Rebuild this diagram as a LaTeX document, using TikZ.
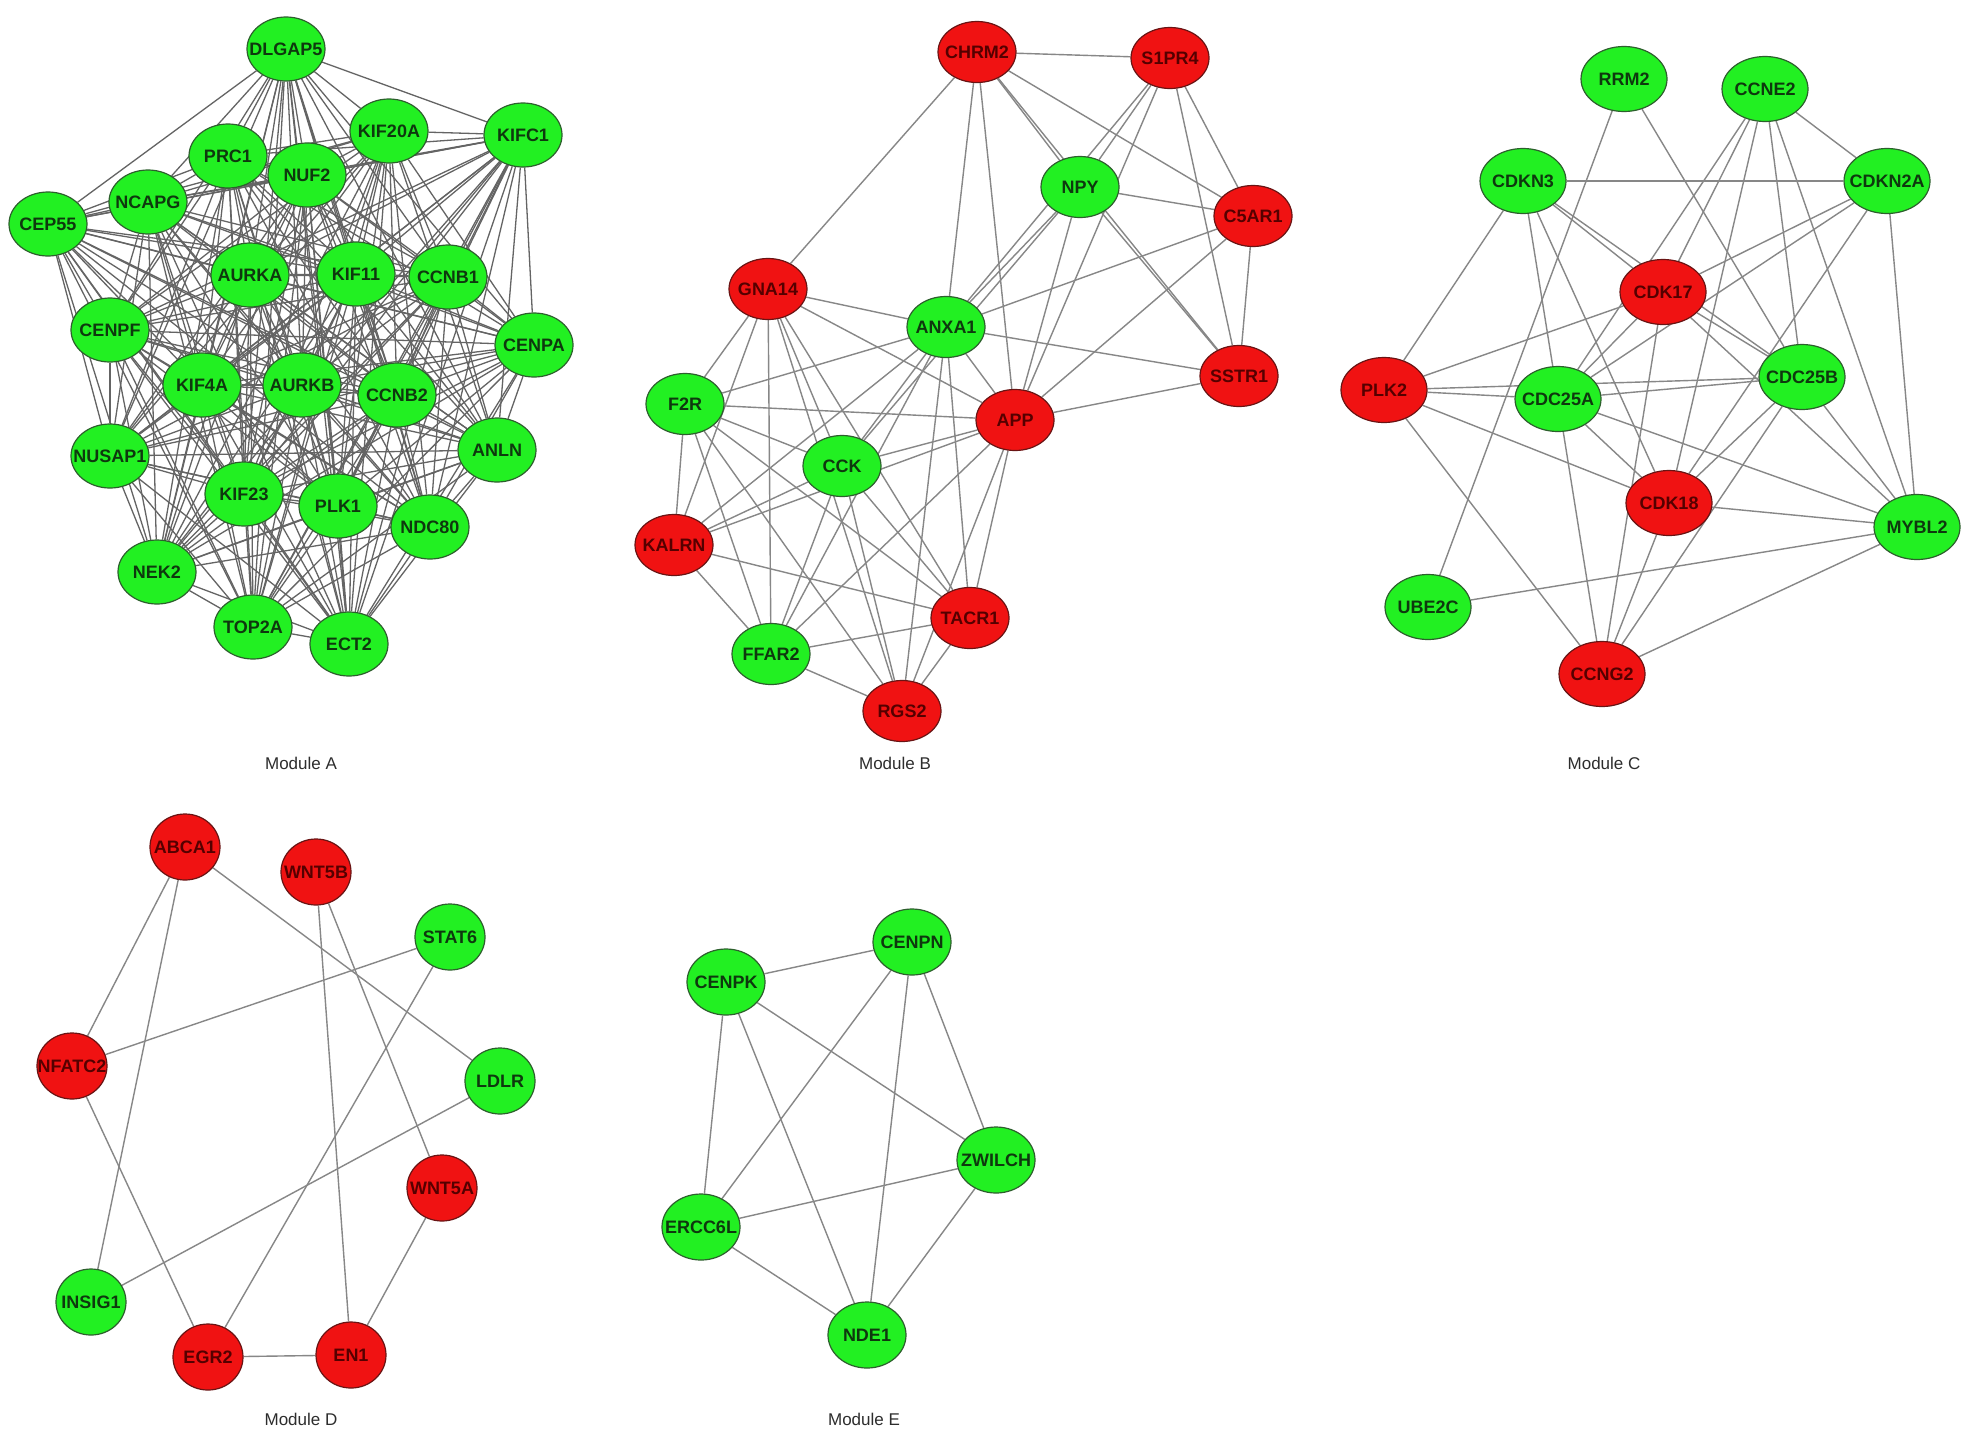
\documentclass[tikz,border=0pt]{standalone}
\usepackage{fontspec}
\setmainfont{Liberation Sans}
\usetikzlibrary{shapes.geometric}
\pgfdeclarelayer{paper}
\pgfdeclarelayer{bg}
\pgfsetlayers{paper,bg,main}
\definecolor{ngreen}{RGB}{34,240,34}
\definecolor{nred}{RGB}{240,18,18}
\definecolor{gtext}{RGB}{14,56,14}
\definecolor{rtext}{RGB}{85,0,0}
\definecolor{gborder}{RGB}{45,95,45}
\definecolor{rborder}{RGB}{105,20,20}
\definecolor{edgeclr}{RGB}{135,135,135}
\definecolor{edgeAclr}{RGB}{100,100,100}
\definecolor{labclr}{RGB}{45,45,45}
\newcommand\gl[1]{\makebox[0pt][c]{#1}}
\tikzset{
  gene/.style={ellipse, inner sep=0pt, line width=1.2pt, font=\bfseries\fontsize{18}{20}\selectfont},
  gnode/.style={gene, draw=gborder, fill=ngreen, text=gtext},
  rnode/.style={gene, draw=rborder, fill=nred, text=rtext},
  szA/.style={minimum width=78pt, minimum height=64pt},
  szB/.style={minimum width=78pt, minimum height=61pt},
  szC/.style={minimum width=86pt, minimum height=65pt},
  szD/.style={minimum width=70pt, minimum height=66pt},
  szE/.style={minimum width=78pt, minimum height=66pt},
  edgeA/.style={draw=edgeAclr, line width=1.3pt},
  edge/.style={draw=edgeclr, line width=1.4pt},
  modlabel/.style={font=\fontsize{17}{20}\selectfont, text=labclr}
}
\begin{document}
\begin{tikzpicture}[x=1pt,y=-1pt]
\useasboundingbox (0,0) rectangle (1973,1438);
\begin{pgfonlayer}{paper}
\fill[white] (0,0) rectangle (1973,1438);
\end{pgfonlayer}

% ---------------- Module A ----------------
\begin{scope}[every node/.style={gnode, szA}]
\node (DLGAP5) at (286,49) {\gl{DLGAP5}};
\node (KIF20A) at (389,131) {\gl{KIF20A}};
\node (KIFC1) at (523,135) {\gl{KIFC1}};
\node (PRC1) at (228,156) {\gl{PRC1}};
\node (NUF2) at (307,175) {\gl{NUF2}};
\node (NCAPG) at (148,202) {\gl{NCAPG}};
\node (CEP55) at (48,224) {\gl{CEP55}};
\node (AURKA) at (250,275) {\gl{AURKA}};
\node (KIF11) at (356,274) {\gl{KIF11}};
\node (CCNB1) at (448,277) {\gl{CCNB1}};
\node (CENPF) at (110,330) {\gl{CENPF}};
\node (CENPA) at (534,345) {\gl{CENPA}};
\node (KIF4A) at (202,385) {\gl{KIF4A}};
\node (AURKB) at (302,385) {\gl{AURKB}};
\node (CCNB2) at (397,395) {\gl{CCNB2}};
\node (NUSAP1) at (110,456) {\gl{NUSAP1}};
\node (ANLN) at (497,450) {\gl{ANLN}};
\node (KIF23) at (244,494) {\gl{KIF23}};
\node (PLK1) at (338,506) {\gl{PLK1}};
\node (NDC80) at (430,527) {\gl{NDC80}};
\node (NEK2) at (157,572) {\gl{NEK2}};
\node (TOP2A) at (253,627) {\gl{TOP2A}};
\node (ECT2) at (349,644) {\gl{ECT2}};
\end{scope}
\node[modlabel] (labA) at (301,763) {Module A};

\def\Alist{DLGAP5,KIF20A,KIFC1,PRC1,NUF2,NCAPG,CEP55,AURKA,KIF11,CCNB1,CENPF,CENPA,KIF4A,AURKB,CCNB2,NUSAP1,ANLN,KIF23,PLK1,NDC80,NEK2,TOP2A,ECT2}
\begin{pgfonlayer}{bg}
\foreach \a [count=\i] in \Alist {
  \foreach \b [count=\j] in \Alist {
    \ifnum\j>\i \draw[edgeA] (\a) -- (\b); \fi
  }
}
\end{pgfonlayer}

% ---------------- Module B ----------------
\begin{scope}[every node/.style={szB}]
\node[rnode] (CHRM2) at (977,52) {\gl{CHRM2}};
\node[rnode] (S1PR4) at (1170,58) {\gl{S1PR4}};
\node[gnode] (NPY) at (1080,187) {\gl{NPY}};
\node[rnode] (C5AR1) at (1253,216) {\gl{C5AR1}};
\node[rnode] (GNA14) at (768,289) {\gl{GNA14}};
\node[gnode] (ANXA1) at (946,327) {\gl{ANXA1}};
\node[rnode] (SSTR1) at (1239,376) {\gl{SSTR1}};
\node[gnode] (F2R) at (685,404) {\gl{F2R}};
\node[rnode] (APP) at (1015,420) {\gl{APP}};
\node[gnode] (CCK) at (842,466) {\gl{CCK}};
\node[rnode] (KALRN) at (674,545) {\gl{KALRN}};
\node[rnode] (TACR1) at (970,618) {\gl{TACR1}};
\node[gnode] (FFAR2) at (771,654) {\gl{FFAR2}};
\node[rnode] (RGS2) at (902,711) {\gl{RGS2}};
\end{scope}
\node[modlabel] (labB) at (895,763) {Module B};

\begin{pgfonlayer}{bg}
\foreach \a/\b in {CHRM2/S1PR4, CHRM2/GNA14, CHRM2/ANXA1, CHRM2/APP, CHRM2/NPY, CHRM2/SSTR1, CHRM2/C5AR1,
  S1PR4/NPY, S1PR4/ANXA1, S1PR4/APP, S1PR4/C5AR1, S1PR4/SSTR1,
  NPY/C5AR1, NPY/ANXA1, NPY/APP, NPY/SSTR1, NPY/CCK,
  C5AR1/ANXA1, C5AR1/APP, C5AR1/SSTR1,
  SSTR1/ANXA1, SSTR1/APP,
  GNA14/ANXA1, GNA14/APP, GNA14/F2R, GNA14/KALRN, GNA14/FFAR2, GNA14/CCK, GNA14/TACR1, GNA14/RGS2,
  ANXA1/F2R, ANXA1/APP, ANXA1/CCK, ANXA1/KALRN, ANXA1/FFAR2, ANXA1/TACR1, ANXA1/RGS2,
  F2R/APP, F2R/CCK, F2R/KALRN, F2R/FFAR2, F2R/TACR1, F2R/RGS2,
  APP/CCK, APP/KALRN, APP/FFAR2, APP/TACR1, APP/RGS2,
  CCK/KALRN, CCK/FFAR2, CCK/TACR1, CCK/RGS2,
  KALRN/TACR1, KALRN/FFAR2,
  FFAR2/TACR1, FFAR2/RGS2,
  TACR1/RGS2}
  \draw[edge] (\a) -- (\b);
\end{pgfonlayer}

% ---------------- Module C ----------------
\begin{scope}[every node/.style={szC}]
\node[gnode] (RRM2) at (1624,79) {\gl{RRM2}};
\node[gnode] (CCNE2) at (1765,89) {\gl{CCNE2}};
\node[gnode] (CDKN3) at (1523,181) {\gl{CDKN3}};
\node[gnode] (CDKN2A) at (1887,181) {\gl{CDKN2A}};
\node[rnode] (CDK17) at (1663,292) {\gl{CDK17}};
\node[rnode] (PLK2) at (1384,390) {\gl{PLK2}};
\node[gnode] (CDC25A) at (1558,399) {\gl{CDC25A}};
\node[gnode] (CDC25B) at (1802,377) {\gl{CDC25B}};
\node[rnode] (CDK18) at (1669,503) {\gl{CDK18}};
\node[gnode] (MYBL2) at (1917,527) {\gl{MYBL2}};
\node[gnode] (UBE2C) at (1428,607) {\gl{UBE2C}};
\node[rnode] (CCNG2) at (1602,674) {\gl{CCNG2}};
\end{scope}
\node[modlabel] (labC) at (1604,763) {Module C};

\begin{pgfonlayer}{bg}
\foreach \a/\b in {RRM2/UBE2C, RRM2/CDC25B,
  CCNE2/CDKN2A, CCNE2/CDK17, CCNE2/CDC25A, CCNE2/CDK18, CCNE2/CDC25B, CCNE2/MYBL2,
  CDKN3/CDKN2A, CDKN3/PLK2, CDKN3/CDK17, CDKN3/CDC25A, CDKN3/CDK18, CDKN3/CDC25B,
  CDKN2A/CDK17, CDKN2A/CDC25A, CDKN2A/CDK18, CDKN2A/MYBL2,
  CDK17/PLK2, CDK17/CDC25A, CDK17/CDC25B, CDK17/MYBL2, CDK17/CCNG2,
  PLK2/CDC25A, PLK2/CDC25B, PLK2/CDK18, PLK2/CCNG2,
  CDC25A/CDC25B, CDC25A/CDK18, CDC25A/MYBL2, CDC25A/CCNG2,
  CDC25B/CDK18, CDC25B/MYBL2, CDC25B/CCNG2,
  CDK18/MYBL2, CDK18/CCNG2,
  MYBL2/UBE2C, MYBL2/CCNG2}
  \draw[edge] (\a) -- (\b);
\end{pgfonlayer}

% ---------------- Module D ----------------
\begin{scope}[every node/.style={szD}]
\node[rnode] (ABCA1) at (185,847) {\gl{ABCA1}};
\node[rnode] (WNT5B) at (316,872) {\gl{WNT5B}};
\node[gnode] (STAT6) at (450,937) {\gl{STAT6}};
\node[rnode] (NFATC2) at (72,1066) {\gl{NFATC2}};
\node[gnode] (LDLR) at (500,1081) {\gl{LDLR}};
\node[rnode] (WNT5A) at (442,1188) {\gl{WNT5A}};
\node[gnode] (INSIG1) at (91,1302) {\gl{INSIG1}};
\node[rnode] (EGR2) at (208,1357) {\gl{EGR2}};
\node[rnode] (EN1) at (351,1355) {\gl{EN1}};
\end{scope}
\node[modlabel] (labD) at (301,1419) {Module D};

\begin{pgfonlayer}{bg}
\foreach \a/\b in {ABCA1/NFATC2, ABCA1/INSIG1, ABCA1/LDLR, WNT5B/EN1, WNT5B/WNT5A,
  STAT6/NFATC2, STAT6/EGR2, NFATC2/EGR2, LDLR/INSIG1, WNT5A/EN1, EGR2/EN1}
  \draw[edge] (\a) -- (\b);
\end{pgfonlayer}

% ---------------- Module E ----------------
\begin{scope}[every node/.style={gnode, szE}]
\node (CENPN) at (912,942) {\gl{CENPN}};
\node (CENPK) at (726,982) {\gl{CENPK}};
\node (ZWILCH) at (996,1160) {\gl{ZWILCH}};
\node (ERCC6L) at (701,1227) {\gl{ERCC6L}};
\node (NDE1) at (867,1335) {\gl{NDE1}};
\end{scope}
\node[modlabel] (labE) at (864,1419) {Module E};

\begin{pgfonlayer}{bg}
\foreach \a/\b in {CENPK/CENPN, CENPK/ERCC6L, CENPK/NDE1, CENPK/ZWILCH, CENPN/ERCC6L,
  CENPN/NDE1, CENPN/ZWILCH, ZWILCH/ERCC6L, ZWILCH/NDE1, ERCC6L/NDE1}
  \draw[edge] (\a) -- (\b);
\end{pgfonlayer}
\end{tikzpicture}
\end{document}
